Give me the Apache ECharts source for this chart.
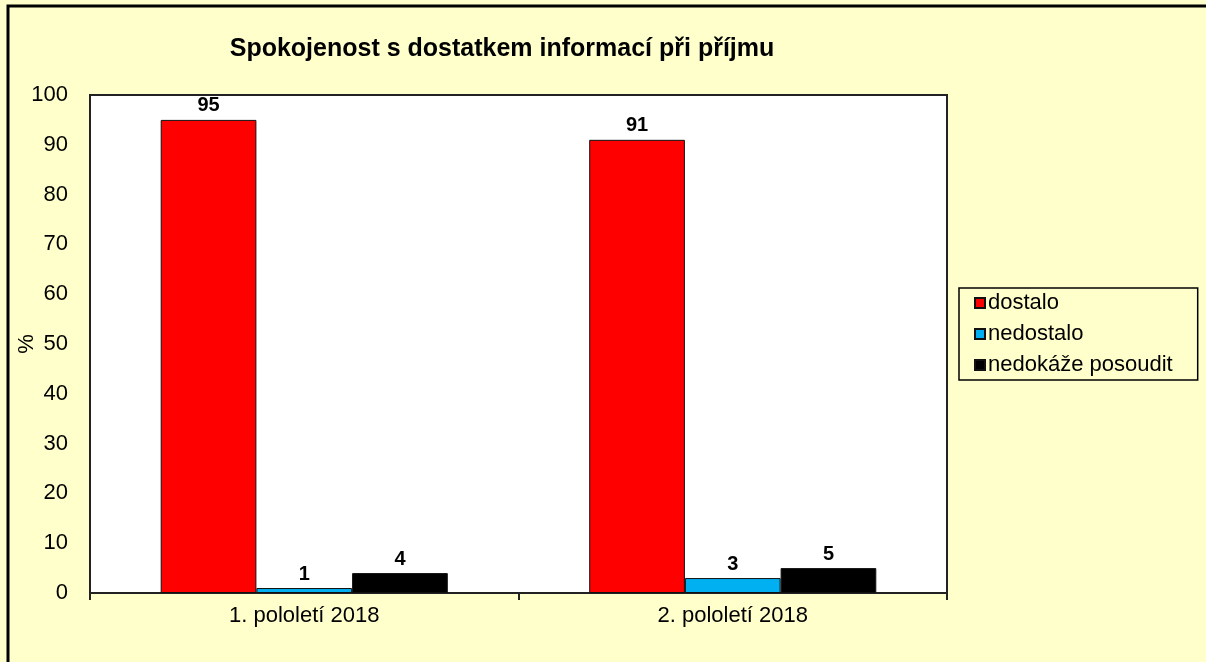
<!DOCTYPE html>
<html>
<head>
<meta charset="utf-8">
<script src="https://cdn.jsdelivr.net/npm/echarts@6/dist/echarts.min.js"></script>
<style>
  html, body { margin: 0; padding: 0; background: #FFFFCC; }
  #chart { width: 1206px; height: 662px; }
</style>
</head>
<body>
<div id="chart"></div>
<script>
const categories = ["1. pololetí 2018", "2. pololetí 2018"];
const seriesNames = ["dostalo", "nedostalo", "nedokáže posoudit"];
const dostalo = [95, 91];
const nedostalo = [1, 3];
const nedokazePosoudit = [4, 5];
const colors = ["#FF0000", "#00B0F0", "#000000"];

const chart = echarts.init(document.getElementById("chart"), null, { renderer: "canvas" });

const font = "Arial, 'Liberation Sans', sans-serif";

function bar(name, data, color) {
    return {
        name: name,
        type: "bar",
        data: data,
        barGap: "0%",
        barCategoryGap: "33%",
        itemStyle: { color: color, borderColor: "#111", borderWidth: 1 },
        label: {
            show: true,
            position: "top",
            distance: 4,
            color: "#000",
            fontWeight: "bold",
            fontSize: 20,
            fontFamily: font
        }
    };
}

const option = {
    backgroundColor: "#FFFFCC",
    animation: false,
    title: {
        text: "Spokojenost s dostatkem informací při příjmu",
        left: 497,
        textAlign: "center",
        top: 32,
        textStyle: { fontSize: 25, fontWeight: "bold", color: "#000", fontFamily: font }
    },
    legend: {
        orient: "vertical",
        left: 959,
        top: 288,
        padding: [4, 25, 4, 15],
        itemGap: 9,
        itemWidth: 10,
        itemHeight: 10,
        icon: "rect",
        borderColor: "#000",
        borderWidth: 1.5,
        backgroundColor: "#FFFFCC",
        data: seriesNames,
        textStyle: { fontSize: 22, color: "#000", fontFamily: font, padding: [0, 0, 0, -2] }
    },
    grid: {
        left: 90,
        right: 259,
        top: 95,
        bottom: 69,
        outerBoundsMode: "none",
        show: true,
        backgroundColor: "#FFFFFF",
        borderColor: "#222",
        borderWidth: 2
    },
    xAxis: {
        type: "category",
        data: categories,
        axisLine: { lineStyle: { color: "#222", width: 2 } },
        axisTick: { show: true, length: 7, lineStyle: { color: "#222", width: 2 } },
        axisLabel: { fontSize: 22, color: "#000", margin: 12, fontFamily: font }
    },
    yAxis: {
        type: "value",
        min: 0,
        max: 100,
        interval: 10,
        name: "%",
        nameLocation: "middle",
        nameGap: 52,
        nameMoveOverlap: false,
        nameRotate: 90,
        nameTextStyle: { fontSize: 22, color: "#000", fontFamily: font },
        axisLine: { show: true, lineStyle: { color: "#222", width: 2 } },
        axisTick: { show: false },
        splitLine: { show: false },
        axisLabel: { fontSize: 22, color: "#000", margin: 22, fontFamily: font }
    },
    graphic: [{
        type: "rect",
        shape: { x: 8, y: 6, width: 1400, height: 900 },
        style: { fill: null, stroke: "#000", lineWidth: 3 },
        silent: true
    }],
    series: [
        bar(seriesNames[0], dostalo, colors[0]),
        bar(seriesNames[1], nedostalo, colors[1]),
        bar(seriesNames[2], nedokazePosoudit, colors[2])
    ]
};

chart.setOption(option);
</script>
</body>
</html>
